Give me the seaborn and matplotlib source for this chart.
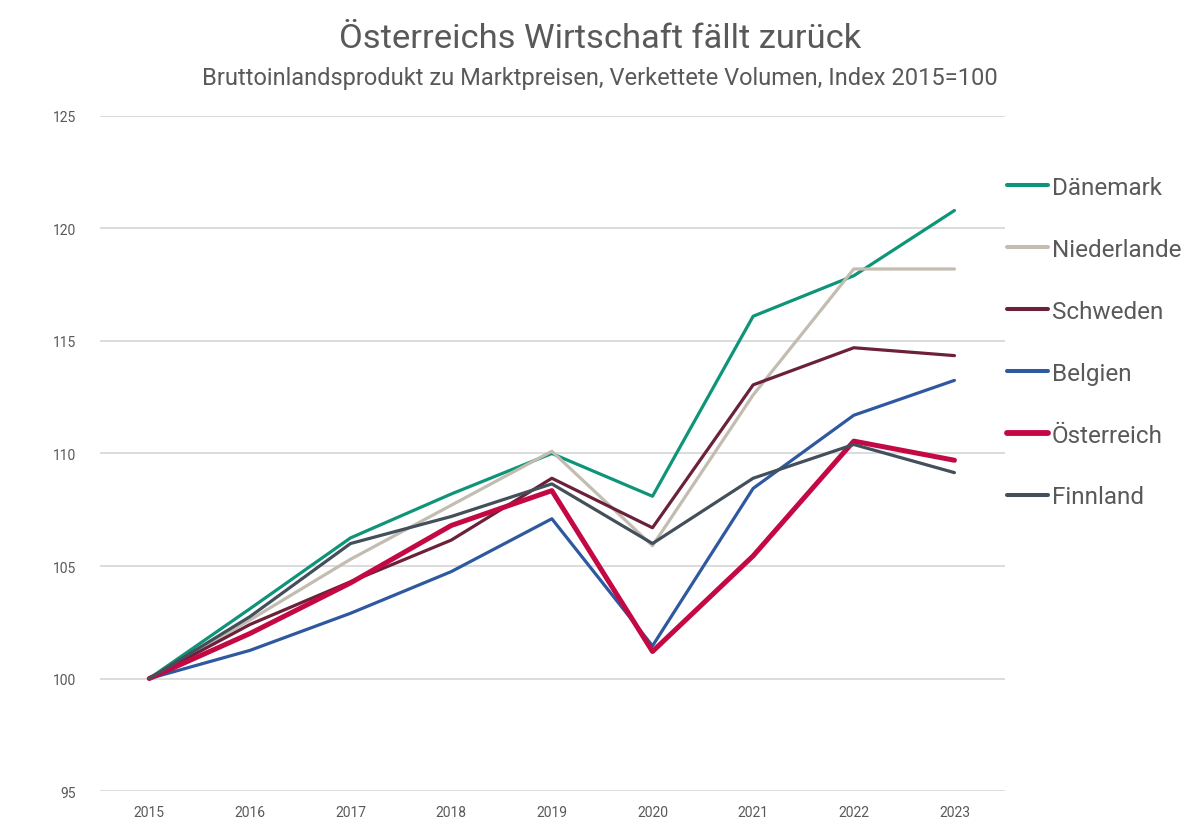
import numpy as np
import pandas as pd
import matplotlib
matplotlib.use('Agg')
import matplotlib.pyplot as plt
import seaborn as sns

# ── Data ───────────────────────────────────────────────────────────────────────
years = [2015, 2016, 2017, 2018, 2019, 2020, 2021, 2022, 2023]
countries = ["Dänemark", "Niederlande", "Schweden", "Belgien", "Österreich", "Finnland"]

daenemark   = [100, 103.1, 106.25, 108.2, 110.0, 108.1, 116.1, 117.9, 120.8]
niederlande = [100, 102.6, 105.3, 107.7, 110.1, 105.9, 112.6, 118.2, 118.2]
schweden    = [100, 102.4, 104.3, 106.15, 108.9, 106.7, 113.05, 114.7, 114.35]
belgien     = [100, 101.25, 102.9, 104.75, 107.1, 101.45, 108.45, 111.7, 113.25]
oesterreich = [100, 102.0, 104.25, 106.8, 108.35, 101.2, 105.45, 110.55, 109.7]
finnland    = [100, 102.75, 106.0, 107.2, 108.65, 106.0, 108.9, 110.4, 109.15]

series = [daenemark, niederlande, schweden, belgien, oesterreich, finnland]

colors = {
    "Dänemark": "#0E9478",
    "Niederlande": "#C3BDB1",
    "Schweden": "#6A2139",
    "Belgien": "#2E59A0",
    "Österreich": "#C40844",
    "Finnland": "#434F5B",
}
widths = {c: 2.3 for c in countries}
widths["Österreich"] = 3.6

df = pd.DataFrame({
    'Jahr': np.tile(years, len(countries)),
    'Land': np.repeat(countries, len(years)),
    'Index': np.concatenate(series),
})

# ── Plot ───────────────────────────────────────────────────────────────────────
sns.set_style("white")
plt.rcParams['font.family'] = ['Roboto', 'DejaVu Sans']
txt = '#595959'

fig = plt.figure(figsize=(12, 8.29), dpi=100)
ax = fig.add_axes([0.0833, 0.0446, 0.754, 0.8143])

sns.lineplot(data=df, x='Jahr', y='Index', hue='Land', size='Land',
             hue_order=countries, size_order=countries,
             palette=colors, sizes=widths, ax=ax, legend=False)
for ln in ax.get_lines():
    ln.set_solid_capstyle('round')
    ln.set_solid_joinstyle('round')

ax.set_xlim(2014.51, 2023.5)
ax.set_ylim(95, 125)
ax.set_xticks(years)
ax.set_yticks(range(95, 126, 5))
ax.set_xlabel('')
ax.set_ylabel('')
ax.tick_params(axis='both', length=0, labelsize=10, colors=txt)
ax.tick_params(axis='y', pad=17)
ax.tick_params(axis='x', pad=10)
ax.grid(axis='y', color='#D9D9D9', linewidth=1.3)
ax.set_axisbelow(True)
for s in ax.spines.values():
    s.set_visible(False)

handles = [plt.Line2D([0], [0], color=colors[c], lw=widths[c] + 0.6,
                      solid_capstyle='round') for c in countries]
fig.legend(handles, countries, loc='upper left',
           bbox_to_anchor=(1007 / 1200, 1 - 177 / 829),
           frameon=False, fontsize=17.5, labelcolor=txt,
           handlelength=1.7, handletextpad=0.15, labelspacing=1.6,
           borderpad=0, borderaxespad=0)

fig.text(0.5, 1 - 39 / 829, 'Österreichs Wirtschaft fällt zurück',
         ha='center', va='center', fontsize=24.8, color=txt)
fig.text(0.5, 1 - 78 / 829,
         'Bruttoinlandsprodukt zu Marktpreisen, Verkettete Volumen, Index 2015=100',
         ha='center', va='center', fontsize=17, color=txt)

plt.savefig('out.png', dpi=100)
plt.close()
